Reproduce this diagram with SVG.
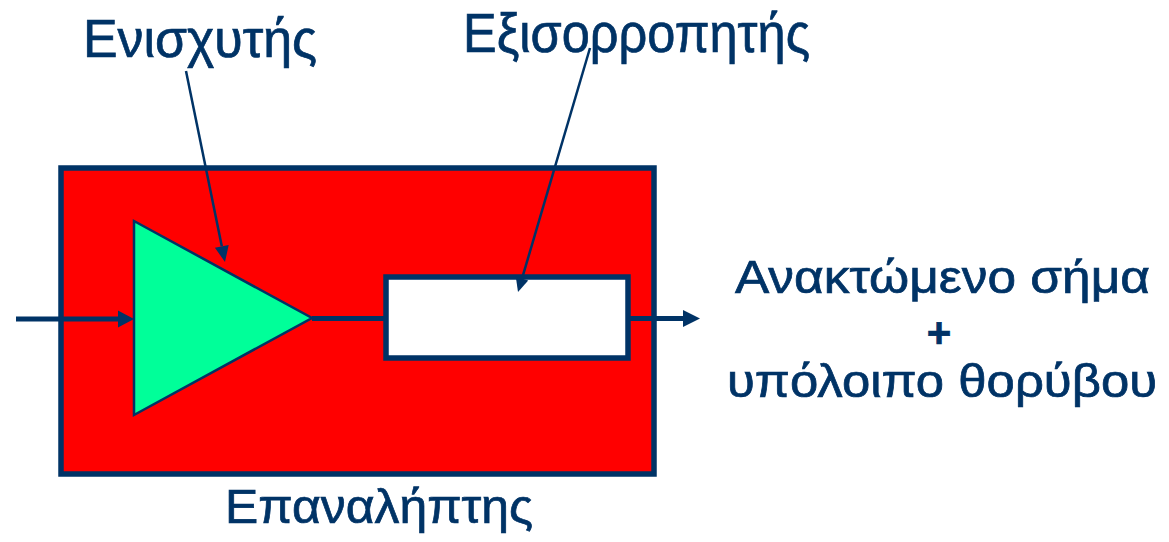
<svg xmlns="http://www.w3.org/2000/svg" width="1169" height="542" viewBox="0 0 1169 542">
  <style>
    .lbl { font-family: "Liberation Sans", "DejaVu Sans", sans-serif; fill: #003366; stroke: #003366; stroke-width: 0.7; }
    .wire { stroke: #003366; stroke-width: 5; fill: none; }
    .ptr { stroke: #003366; stroke-width: 2.5; fill: none; }
    .head { fill: #003366; stroke: none; }
  </style>
  <rect width="1169" height="542" fill="#ffffff"/>

  <g id="repeater">
    <rect x="61" y="168" width="593" height="306" fill="#ff0000" stroke="#003366" stroke-width="5.5"/>
    <text class="lbl" x="225" y="523" font-size="48" textLength="308" lengthAdjust="spacingAndGlyphs">Επαναλήπτης</text>
  </g>

  <g id="amplifier">
    <polygon points="134,221 312,318 134,415" fill="#00ff99" stroke="#003366" stroke-width="2.5"/>
  </g>

  <g id="equalizer">
    <rect x="386" y="277" width="242" height="81" fill="#ffffff" stroke="#003366" stroke-width="5.5"/>
  </g>

  <g id="label-amplifier">
    <text class="lbl" x="83" y="57" font-size="54" textLength="234" lengthAdjust="spacingAndGlyphs">Ενισχυτής</text>
  </g>

  <g id="label-equalizer">
    <text class="lbl" x="463" y="52" font-size="55" textLength="347" lengthAdjust="spacingAndGlyphs">Εξισορροπητής</text>
  </g>

  <g id="label-output">
    <text class="lbl" x="735" y="293" font-size="46" textLength="415" lengthAdjust="spacingAndGlyphs">Ανακτώμενο σήμα</text>
    <text class="lbl" x="939" y="347" font-size="42" font-weight="bold" text-anchor="middle">+</text>
    <text class="lbl" x="727" y="397" font-size="46" textLength="430" lengthAdjust="spacingAndGlyphs">υπόλοιπο θορύβου</text>
  </g>

  <g id="connectors">
    <line class="wire" x1="16" y1="319" x2="120" y2="319"/>
    <polygon class="head" points="118,310.5 134,319 118,327.5"/>
    <line class="wire" x1="312" y1="318.5" x2="386" y2="318.5"/>
    <line class="wire" x1="628" y1="318.5" x2="685" y2="318.5"/>
    <polygon class="head" points="683,310 700,318.5 683,327"/>
    <line class="ptr" x1="186" y1="71" x2="221.8" y2="246.3"/>
    <polygon class="head" points="214.9,247.7 225,262 228.7,244.9"/>
    <line class="ptr" x1="590" y1="48" x2="522" y2="278.6"/>
    <polygon class="head" points="528.2,280.4 518,292 515.8,276.8"/>
  </g>
</svg>
